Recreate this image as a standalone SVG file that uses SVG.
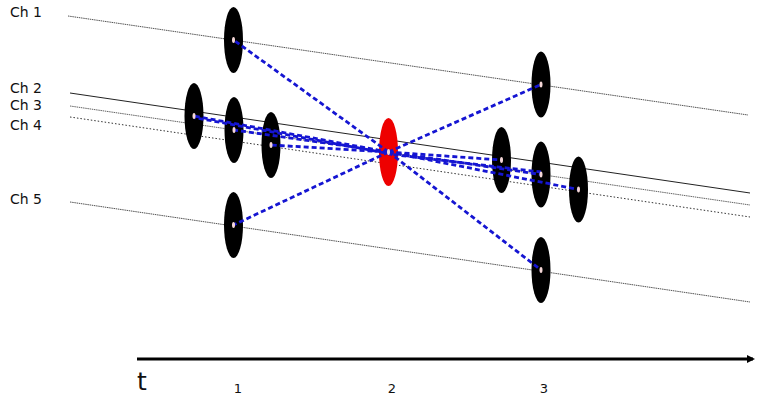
<svg xmlns="http://www.w3.org/2000/svg" width="759" height="398" viewBox="0 0 759 398">
<defs>
<style>
.lbl{font-family:"DejaVu Sans","Noto Sans",sans-serif;font-size:14px;fill:#111}
.num{font-family:"DejaVu Sans","Noto Sans",sans-serif;font-size:13px;fill:#111;text-anchor:middle}
.ch{stroke-width:1;fill:none}
.node{fill:#000}
.red{fill:#ee0000}
.dot{fill:#f4d6d6}
.edge{stroke:#1515d2;stroke-width:2.8;stroke-dasharray:5 3;fill:none}
</style>
<marker id="arr" markerWidth="8" markerHeight="8" refX="6" refY="4" orient="auto" markerUnits="userSpaceOnUse">
<path d="M0,0 L8,4 L0,8 Z" fill="#000"/>
</marker>
</defs>
<rect width="759" height="398" fill="#fff"/>

<g id="channels">
<line class="ch" x1="68" y1="16" x2="748" y2="115" stroke="#555" stroke-dasharray="1.5 0.7"/>
<line class="ch" x1="70" y1="93" x2="750" y2="193" stroke="#222"/>
<line class="ch" x1="70" y1="106" x2="750" y2="205" stroke="#666" stroke-dasharray="1.5 0.7"/>
<line class="ch" x1="70" y1="117" x2="750" y2="217" stroke="#333" stroke-dasharray="1.5 2"/>
<line class="ch" x1="70" y1="202" x2="750" y2="302" stroke="#555" stroke-dasharray="1.5 0.7"/>
<text class="lbl" x="10" y="17">Ch 1</text>
<text class="lbl" x="10" y="93">Ch 2</text>
<text class="lbl" x="10" y="110">Ch 3</text>
<text class="lbl" x="10" y="130">Ch 4</text>
<text class="lbl" x="10" y="204">Ch 5</text>
</g>

<g id="n1a"><ellipse class="node" cx="233.5" cy="40" rx="9.5" ry="33"/></g>
<g id="n1b"><ellipse class="node" cx="194" cy="116" rx="9.5" ry="33"/></g>
<g id="n1c"><ellipse class="node" cx="234" cy="130" rx="9.5" ry="33"/></g>
<g id="n1d"><ellipse class="node" cx="271" cy="145" rx="9.5" ry="33"/></g>
<g id="n1e"><ellipse class="node" cx="233.5" cy="225" rx="9.5" ry="33"/></g>
<g id="n3a"><ellipse class="node" cx="541" cy="84.5" rx="9.5" ry="33"/></g>
<g id="n3b"><ellipse class="node" cx="501.5" cy="160" rx="9.5" ry="33"/></g>
<g id="n3c"><ellipse class="node" cx="541" cy="174.5" rx="9.5" ry="33"/></g>
<g id="n3d"><ellipse class="node" cx="578.5" cy="189.5" rx="9.5" ry="33"/></g>
<g id="n3e"><ellipse class="node" cx="541" cy="270" rx="9.5" ry="33"/></g>
<g id="n2"><ellipse class="red" cx="388.5" cy="152" rx="9.5" ry="34"/></g>

<g id="connectors">
<line class="edge" x1="388.5" y1="152" x2="233.5" y2="40"/>
<line class="edge" x1="388.5" y1="152" x2="194" y2="116"/>
<line class="edge" x1="388.5" y1="153.5" x2="194" y2="117.5" stroke-dashoffset="4"/>
<line class="edge" x1="388.5" y1="152" x2="234" y2="130"/>
<line class="edge" x1="388.5" y1="152" x2="271" y2="145"/>
<line class="edge" x1="388.5" y1="152" x2="233.5" y2="225"/>
<line class="edge" x1="388.5" y1="152" x2="541" y2="84.5"/>
<line class="edge" x1="388.5" y1="152" x2="501.5" y2="160"/>
<line class="edge" x1="388.5" y1="152" x2="541" y2="174.5"/>
<line class="edge" x1="388.5" y1="154" x2="541" y2="172" stroke-dashoffset="3"/>
<line class="edge" x1="388.5" y1="152" x2="578.5" y2="189.5"/>
<line class="edge" x1="388.5" y1="152" x2="541" y2="270"/>
</g>

<g id="centers">
<ellipse class="dot" cx="233.5" cy="40" rx="1.5" ry="3"/>
<ellipse class="dot" cx="194" cy="116" rx="1.5" ry="3"/>
<ellipse class="dot" cx="234" cy="130" rx="1.5" ry="3"/>
<ellipse class="dot" cx="271" cy="145" rx="1.5" ry="3"/>
<ellipse class="dot" cx="233.5" cy="225" rx="1.5" ry="3"/>
<ellipse class="dot" cx="541" cy="84.5" rx="1.5" ry="3"/>
<ellipse class="dot" cx="501.5" cy="160" rx="1.5" ry="3"/>
<ellipse class="dot" cx="541" cy="174.5" rx="1.5" ry="3"/>
<ellipse class="dot" cx="578.5" cy="189.5" rx="1.5" ry="3"/>
<ellipse class="dot" cx="541" cy="270" rx="1.5" ry="3"/>
<ellipse class="dot" cx="388.5" cy="152" rx="1.5" ry="3"/>
</g>

<g id="axis">
<line x1="137" y1="359" x2="753" y2="359" stroke="#000" stroke-width="3" marker-end="url(#arr)"/>
<text x="137" y="390" style="font-family:'DejaVu Sans','Noto Sans',sans-serif;font-size:25px;fill:#111">t</text>
<text class="num" x="238" y="393">1</text>
<text class="num" x="392" y="393">2</text>
<text class="num" x="544" y="393">3</text>
</g>
</svg>
